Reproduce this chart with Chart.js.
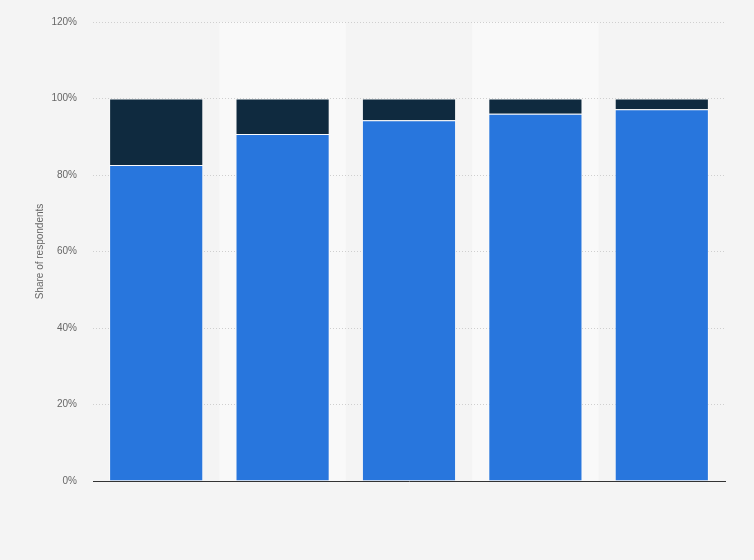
<!DOCTYPE html>
<html>
<head>
<meta charset="utf-8">
<script src="https://cdn.jsdelivr.net/npm/chart.js@4/dist/chart.umd.min.js"></script>
<style>
  html, body { margin: 0; padding: 0; background: #f4f4f4; }
  #wrap { width: 754px; height: 560px; }
</style>
</head>
<body>
<div id="wrap"><canvas id="chart" width="754" height="560"></canvas></div>
<script>
// categories have no visible labels in the picture
const categories = ['', '', '', '', '']
const yesShare = [82.6, 90.7, 94.3, 96.0, 97.2]
const noShare = [17.4, 9.3, 5.7, 4.0, 2.8]
const yTicks = [0, 20, 40, 60, 80, 100, 120]

// light bands behind every second column
const columnBands = {
  id: 'columnBands',
  beforeDraw(chart) {
    const { ctx, chartArea, scales } = chart
    ctx.save()
    ctx.fillStyle = '#f4f4f4'
    ctx.fillRect(0, 0, chart.width, chart.height)
    const step = (chartArea.right - chartArea.left) / categories.length
    ctx.fillStyle = '#f9f9f9'
    categories.forEach((c, i) => {
      if (i % 2 === 1) {
        const cx = scales.x.getPixelForValue(i)
        ctx.fillRect(cx - step / 2, chartArea.top, step, chartArea.bottom - chartArea.top)
      }
    })
    ctx.restore()
  }
}

new Chart(document.getElementById('chart').getContext('2d'), {
  type: 'bar',
  data: {
    labels: categories,
    datasets: [
      {
        label: 'Yes',
        data: yesShare,
        backgroundColor: '#2876dd',
        borderColor: 'rgba(255,255,255,0.55)',
        borderWidth: { top: 1, left: 1, right: 1, bottom: 0 },
        barPercentage: 0.745,
        categoryPercentage: 1
      },
      {
        label: 'No',
        data: noShare,
        backgroundColor: '#0f2a3f',
        borderColor: 'rgba(255,255,255,0.25)',
        borderWidth: { top: 1, left: 1, right: 1, bottom: 0 },
        barPercentage: 0.745,
        categoryPercentage: 1
      }
    ]
  },
  options: {
    responsive: false,
    animation: false,
    devicePixelRatio: 1,
    layout: { padding: { top: 19, right: 29, left: 34, bottom: 0 } },
    plugins: { legend: { display: false }, tooltip: { enabled: false } },
    scales: {
      x: {
        stacked: true,
        grid: { display: false },
        ticks: { display: false },
        border: { display: true, color: '#333333', width: 1 },
        afterFit(scale) { scale.height = 79 }
      },
      y: {
        stacked: true,
        min: 0,
        max: 120,
        afterBuildTicks(scale) { scale.ticks = yTicks.map(v => ({ value: v })) },
        ticks: {
          callback: v => v + '%',
          color: '#666666',
          padding: 16,
          font: { family: 'Liberation Sans, Arial, sans-serif', size: 10 }
        },
        grid: { color: '#cfcfcf', lineWidth: 1, drawTicks: false },
        border: { display: false, dash: [1, 2] },
        title: {
          display: true,
          text: 'Share of respondents',
          color: '#666666',
          padding: { top: 0, bottom: 0 },
          font: { family: 'Liberation Sans, Arial, sans-serif', size: 10 }
        },
        afterFit(scale) { scale.width = 59 }
      }
    }
  },
  plugins: [columnBands]
})
</script>
</body>
</html>
